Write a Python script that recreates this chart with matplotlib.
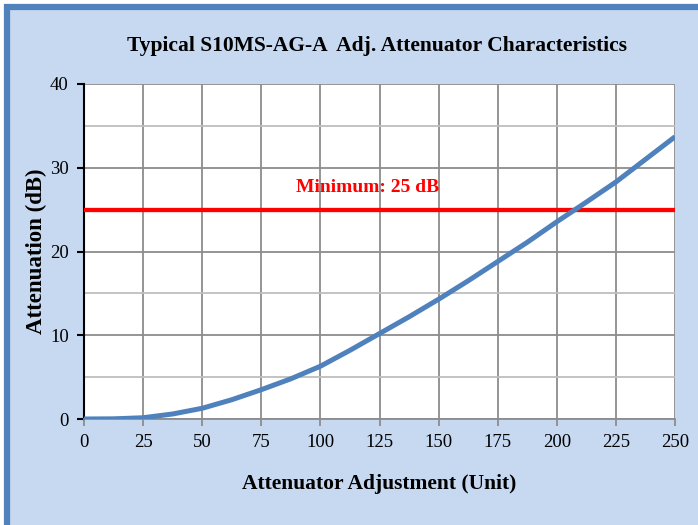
import matplotlib.pyplot as plt
from matplotlib.patches import Rectangle

adjust = [0, 12.5, 25, 37.5, 50, 62.5, 75, 87.5, 100, 112.5, 125, 137.5,
          150, 162.5, 175, 187.5, 200, 212.5, 225, 237.5, 250]
atten = [0, 0.02, 0.15, 0.6, 1.28, 2.3, 3.5, 4.8, 6.3, 8.2, 10.2, 12.2,
         14.3, 16.5, 18.8, 21.1, 23.55, 25.9, 28.3, 31.0, 33.7]
minimum = 25
x_ticks = [0, 25, 50, 75, 100, 125, 150, 175, 200, 225, 250]
y_ticks = [0, 10, 20, 30, 40]

plt.rcParams['font.family'] = ['Liberation Serif', 'DejaVu Serif']

fig = plt.figure(figsize=(6.98, 5.25), dpi=100, facecolor='white')
# chart frame (light blue with dark blue border, cropped right/bottom)
frame = Rectangle((7, -20), 760, 525 - 7 + 20, transform=None,
                  facecolor='#C6D9F1', edgecolor='#4F81BD', linewidth=4.5,
                  zorder=-5)
fig.patches.append(frame)

ax = fig.add_axes([84/698, 1 - 419/525, (675 - 84)/698, (419 - 84)/525])
ax.set_facecolor('white')

ax.set_xlim(0, 250)
ax.set_ylim(0, 40)
ax.set_xticks(x_ticks)
ax.set_yticks(y_ticks)
ax.set_yticks([5, 15, 25, 35], minor=True)
ax.tick_params(axis='y', which='minor', length=0)
ax.grid(True, which='major', color='#8C8C8C', linewidth=1.3)
ax.grid(True, which='minor', axis='y', color='#BEBEBE', linewidth=1.3)
ax.set_axisbelow(True)

for s in ['top', 'right']:
    ax.spines[s].set_visible(False)
ax.spines['left'].set_color('black')
ax.spines['left'].set_linewidth(1.5)
ax.spines['bottom'].set_color('#8C8C8C')
ax.spines['bottom'].set_linewidth(1.3)
ax.tick_params(axis='y', which='major', length=5, width=1.5, color='black',
               labelsize=13.5, pad=6)
ax.tick_params(axis='x', length=5, width=1.3, color='#8C8C8C',
               labelsize=13.5, pad=6)

ax.axhline(minimum, color='#FF0000', linewidth=3.1, zorder=3)
ax.text(120, 27.7, 'Minimum: 25 dB', color='#FF0000', fontsize=14,
        fontweight='bold', ha='center', va='center')
ax.plot(adjust, atten, color='#4F81BD', linewidth=3.6, zorder=4,
        solid_capstyle='butt')

fig.text(377/698, 1 - 46/525, 'Typical S10MS-AG-A  Adj. Attenuator Characteristics',
         ha='center', va='center', fontsize=15.5, fontweight='bold')
ax.set_xlabel('Attenuator Adjustment (Unit)', fontsize=15.5, fontweight='bold',
              labelpad=16)
ax.set_ylabel('Attenuation (dB)', fontsize=16.5, fontweight='bold', labelpad=2)

fig.savefig('out.png', dpi=100, facecolor='white')
